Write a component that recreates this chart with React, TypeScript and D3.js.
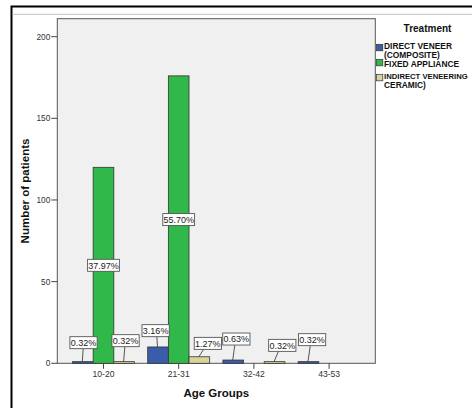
import React from "react";
import * as d3 from "d3";

const ageGroups = ["10-20", "21-31", "32-42", "43-53"];
const treatments = ["DIRECT VENEER (COMPOSITE)", "FIXED APPLIANCE", "INDIRECT VENEERING CERAMIC)"];
const directVeneer = [1, 10, 2, 1];
const fixedAppliance = [120, 176, 0, 0];
const indirectVeneering = [1, 4, 1, 0];
const yTicks = [0, 50, 100, 150, 200];
const totalPatients = 316;

// label layout nudges for small bars: [dx of box centre, gap between bar top and box bottom]
const smallLabelNudge: Record<string, [number, number]> = {
  "0-0": [0.7, 13],
  "0-2": [1.4, 15],
  "1-0": [-2.4, 10.3],
  "1-2": [8.5, 7.4],
  "2-0": [3.1, 15],
  "2-2": [7.7, 10.3],
  "3-0": [3.6, 16],
};

const colors = ["#3b5ca8", "#30b84a", "#d9d49c"];
const FONT = "'Liberation Sans', Arial, sans-serif";

export default function App() {
  const W = 472, H = 408;
  const left = 57.3, right = 375.3, top = 18.7, bottom = 363.3;
  const series = [directVeneer, fixedAppliance, indirectVeneering];

  const x0 = d3.scaleBand<string>().domain(ageGroups).range([left, right]).paddingInner(0).paddingOuter(0.114);
  const x1 = d3.scaleBand<string>().domain(treatments).range([0, x0.bandwidth()]).paddingInner(0).paddingOuter(0.32);
  const y = d3.scaleLinear().domain([0, 211]).range([bottom, top]);

  const fmt = (v: number) => ((v / totalPatients) * 100).toFixed(2) + "%";

  const bars: React.ReactNode[] = [];
  const labels: React.ReactNode[] = [];
  ageGroups.forEach((g, gi) => {
    series.forEach((vals, si) => {
      const v = vals[gi];
      if (!v) return;
      const bx = (x0(g) as number) + (x1(treatments[si]) as number);
      const bw = x1.bandwidth();
      const by = y(v);
      bars.push(
        <rect key={`b${gi}-${si}`} x={bx} y={by} width={bw} height={bottom - by}
          fill={colors[si]} stroke="#333" strokeWidth={0.8} />
      );
      const txt = fmt(v);
      const boxW = txt.length * 4.55 + 4.5;
      const boxH = 12;
      const cx = bx + bw / 2;
      if (v > 40) {
        const cy = y(v / 2);
        labels.push(
          <g key={`l${gi}-${si}`}>
            <rect x={cx - boxW / 2} y={cy - boxH / 2} width={boxW} height={boxH} fill="#fff" stroke="#555" strokeWidth={0.9} />
            <text x={cx} y={cy + 3.2} textAnchor="middle" fontSize={9} fontFamily={FONT} fill="#222">{txt}</text>
          </g>
        );
      } else {
        const [dx, gap] = smallLabelNudge[`${gi}-${si}`] || [0, 12];
        const bcx = cx + dx;
        const boxBottom = by - gap;
        const cy = boxBottom - boxH / 2;
        labels.push(
          <g key={`l${gi}-${si}`}>
            <line x1={cx + dx * 0.5} y1={boxBottom} x2={cx - 0.5} y2={by} stroke="#444" strokeWidth={0.9} />
            <rect x={bcx - boxW / 2} y={cy - boxH / 2} width={boxW} height={boxH} fill="#fff" stroke="#555" strokeWidth={0.9} />
            <text x={bcx} y={cy + 3.2} textAnchor="middle" fontSize={9} fontFamily={FONT} fill="#222">{txt}</text>
          </g>
        );
      }
    });
  });

  const legendLines = [
    ["DIRECT VENEER", "(COMPOSITE)"],
    ["FIXED APPLIANCE"],
    ["INDIRECT VENEERING", "CERAMIC)"],
  ];
  const legendSwatchY = [44.3, 59.3, 74.3];
  const legendBaseline = [48.6, 66.8, 78.6];

  return (
    <svg width={W} height={H} style={{ position: "absolute", left: 0, top: 0 }}>
      <rect x={0} y={0} width={W} height={H} fill="#fff" />
      {/* outer frame */}
      <rect x={11.5} y={6.5} width={W + 10} height={H + 10} fill="none" stroke="#000" strokeWidth={2} />
      <line x1={12.5} y1={14.3} x2={W} y2={14.3} stroke="#c4c4c4" strokeWidth={1} />
      {/* plot area */}
      <rect x={left} y={top} width={right - left} height={bottom - top} fill="#f0f0f0" stroke="#555" strokeWidth={1} />
      {/* y axis */}
      {yTicks.map((t) => (
        <g key={`yt${t}`}>
          <line x1={left - 6} x2={left} y1={y(t)} y2={y(t)} stroke="#444" strokeWidth={1} />
          <text x={left - 7} y={y(t) + 3} textAnchor="end" fontSize={8.3} fontFamily={FONT} fill="#333">{t}</text>
        </g>
      ))}
      {/* x axis */}
      {ageGroups.map((g) => {
        const cx = (x0(g) as number) + x0.bandwidth() / 2;
        return (
          <g key={`xt${g}`}>
            <line x1={cx} x2={cx} y1={bottom} y2={bottom + 5.5} stroke="#444" strokeWidth={1} />
            <text x={cx} y={bottom + 14} textAnchor="middle" fontSize={8.6} fontFamily={FONT} fill="#333">{g}</text>
          </g>
        );
      })}
      {bars}
      {labels}
      {/* axis titles */}
      <text x={(left + right) / 2} y={397.3} textAnchor="middle" fontSize={11.5} fontWeight="bold" fontFamily={FONT} fill="#111">Age Groups</text>
      <text transform={`translate(28.5, ${(top + bottom) / 2}) rotate(-90)`} textAnchor="middle" fontSize={11.5} fontWeight="bold" fontFamily={FONT} fill="#111">Number of patients</text>
      {/* legend */}
      <text x={427.5} y={32.3} textAnchor="middle" fontSize={10} fontWeight="bold" fontFamily={FONT} fill="#111">Treatment</text>
      {treatments.map((t, i) => (
        <g key={`lg${i}`}>
          <rect x={376.5} y={legendSwatchY[i]} width={6.3} height={6.5} fill={colors[i]} stroke="#333" strokeWidth={0.7} />
          {legendLines[i].map((ln, j) => (
            <text key={j} x={384} y={legendBaseline[i] + j * 9.2} fontSize={ln.length > 16 ? 7.7 : 8.4} fontWeight="bold" fontFamily={FONT} fill="#111">{ln}</text>
          ))}
        </g>
      ))}
    </svg>
  );
}
